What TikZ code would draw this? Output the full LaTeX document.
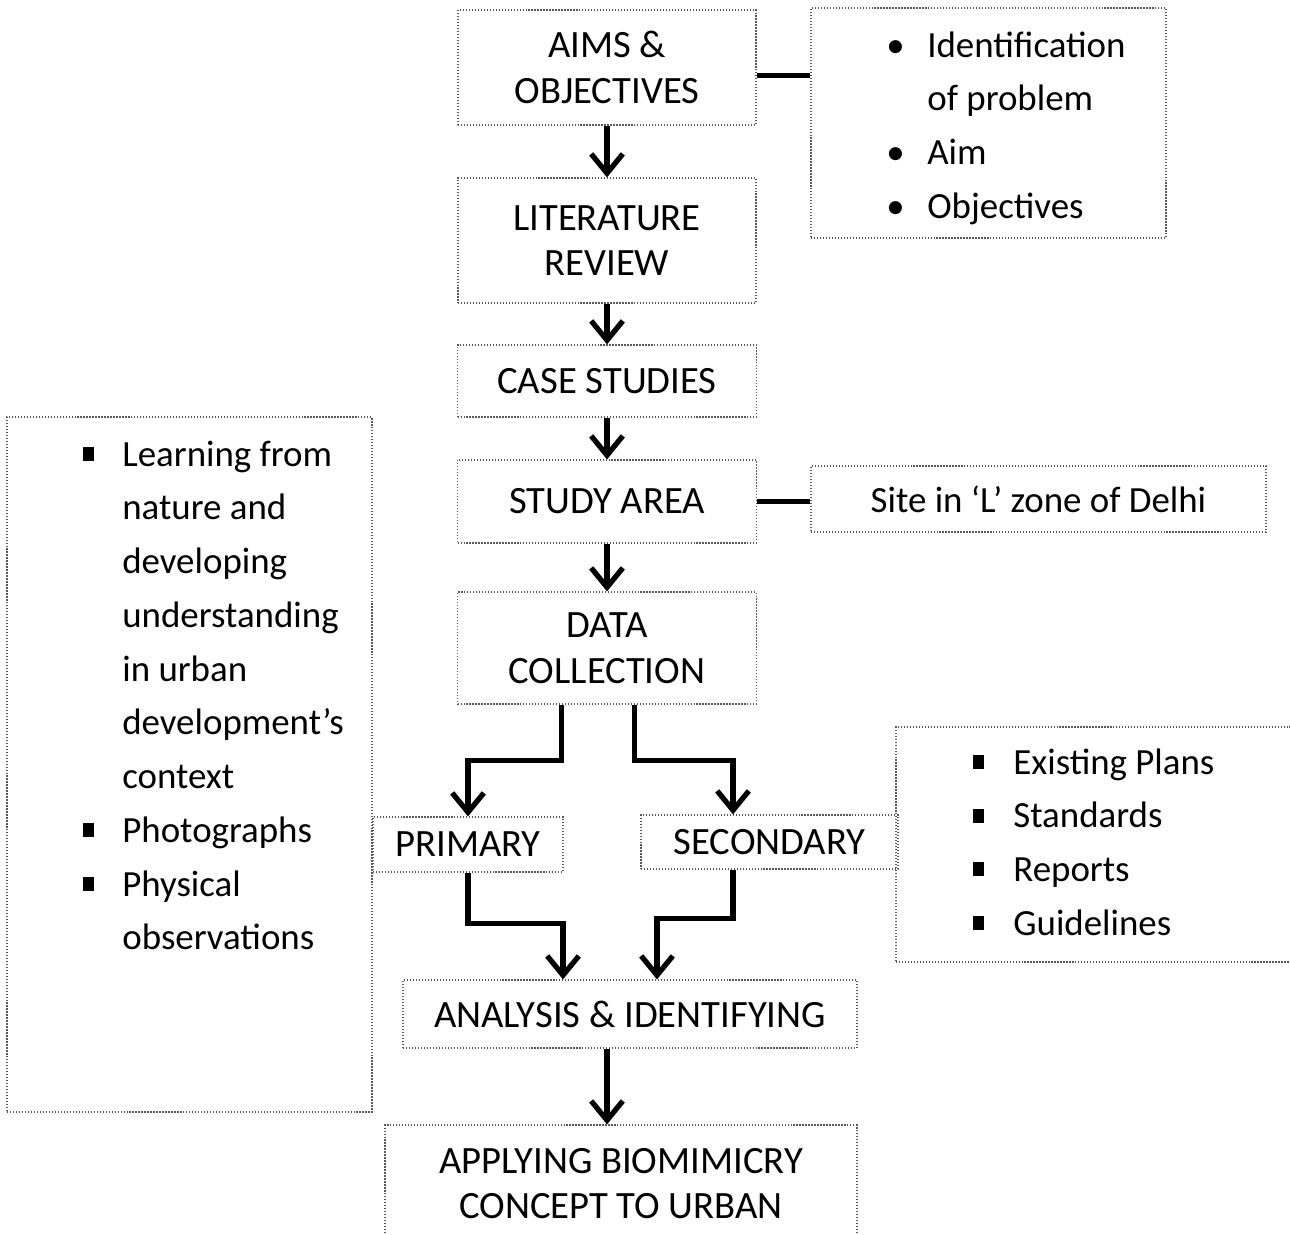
\documentclass[tikz,border=0pt]{standalone}
\usepackage{fontspec}
\setmainfont{Carlito}
\usetikzlibrary{arrows.meta,positioning}
\newcommand{\sqbul}{\rule[0.14em]{0.3em}{0.38em}}

\begin{document}
\begin{tikzpicture}[x=0.02cm, y=-0.02cm,
  stage/.style={draw=black!65, densely dotted, line width=0.7pt, align=center,
    font=\fontsize{22}{26}\selectfont, inner sep=0pt},
  note/.style={draw=black!65, densely dotted, line width=0.7pt, inner sep=0pt},
  listtext/.style={anchor=base west, inner sep=0pt, font=\fontsize{21}{30.6}\selectfont},
  flow/.style={line width=3pt, -{Straight Barb[length=11pt,width=18pt]}},
  link/.style={line width=3.2pt}]

 \useasboundingbox (0,0) rectangle (1290,1234);

 \node[note, minimum width=7.1cm, minimum height=4.6cm] (aimsnote) at (988.5,123) {};
 \node[note, minimum width=9.1cm, minimum height=1.32cm,
   font=\fontsize{21}{25}\selectfont] (sitenote) at (1038.5,499) {Site in ‘L’ zone of Delhi};
 \node[note, minimum width=7.3cm, minimum height=13.9cm] (primnote) at (189.5,764.5) {};
 \node[note, minimum width=8.08cm, minimum height=4.7cm] (secnote) at (1098,844.5) {};

 \node[stage, minimum width=5.96cm, minimum height=2.3cm] (aims) at (607,67.5) {AIMS \&\\OBJECTIVES};
 \node[stage, minimum width=5.96cm, minimum height=2.5cm] (lit) at (607,240.5) {LITERATURE\\REVIEW};
 \node[stage, minimum width=5.98cm, minimum height=1.44cm] (case) at (607,381) {CASE STUDIES};
 \node[stage, minimum width=5.98cm, minimum height=1.66cm] (study) at (607,501.5) {STUDY AREA};
 \node[stage, minimum width=5.98cm, minimum height=2.24cm] (data) at (607,648) {DATA\\COLLECTION};
 \node[stage, minimum width=3.8cm, minimum height=1.1cm] (primary) at (468,844.5) {PRIMARY};
 \node[stage, minimum width=5.14cm, minimum height=1.08cm] (secondary) at (769.5,842) {SECONDARY};
 \node[stage, minimum width=9.08cm, minimum height=1.36cm] (analysis) at (630,1014) {ANALYSIS \& IDENTIFYING};
 \node[stage, minimum width=9.44cm, minimum height=2.34cm] (applying) at (621,1183.5) {APPLYING BIOMIMICRY\\CONCEPT TO URBAN};

 \node[listtext] (aimslist) at (886,57) {\begin{tabular}[t]{@{}p{0.82cm}@{}l@{}}
   \textbullet & Identification\\
    & of problem\\
   \textbullet & Aim\\
   \textbullet & Objectives
 \end{tabular}};

 \node[listtext] (primlist) at (83,466) {\begin{tabular}[t]{@{}p{0.78cm}@{}l@{}}
   \sqbul & Learning from\\
    & nature and\\
    & developing\\
    & understanding\\
    & in urban\\
    & development’s\\
    & context\\
   \sqbul & Photographs\\
   \sqbul & Physical\\
    & observations
 \end{tabular}};

 \node[listtext] (seclist) at (973,774) {\begin{tabular}[t]{@{}p{0.8cm}@{}l@{}}
   \sqbul & Existing Plans\\
   \sqbul & Standards\\
   \sqbul & Reports\\
   \sqbul & Guidelines
 \end{tabular}};

 \draw[flow] (aims) -- (lit);
 \draw[flow] (lit) -- (case);
 \draw[flow] (case) -- (study);
 \draw[flow] (study) -- (data);

 \draw[link] ([yshift=-0.16cm]aims.east) -- ([yshift=-0.16cm]aims.east -| aimsnote.west);
 \draw[link] (study.east) -- (study.east -| sitenote.west);

 \draw[flow] ([xshift=-0.91cm]data.south) -- ++(0,56) -| (primary.north);
 \draw[flow] ([xshift=0.55cm]data.south) -- ++(0,56) -| ([xshift=-0.73cm]secondary.north);
 \draw[flow] (primary.south) -- ++(0,51) -| ([xshift=-1.34cm]analysis.north);
 \draw[flow] ([xshift=-0.73cm]secondary.south) -- ++(0,49) -| ([xshift=0.54cm]analysis.north);

 \draw[flow] (analysis.south -| data.south) -- (applying.north -| data.south);

\end{tikzpicture}
\end{document}
